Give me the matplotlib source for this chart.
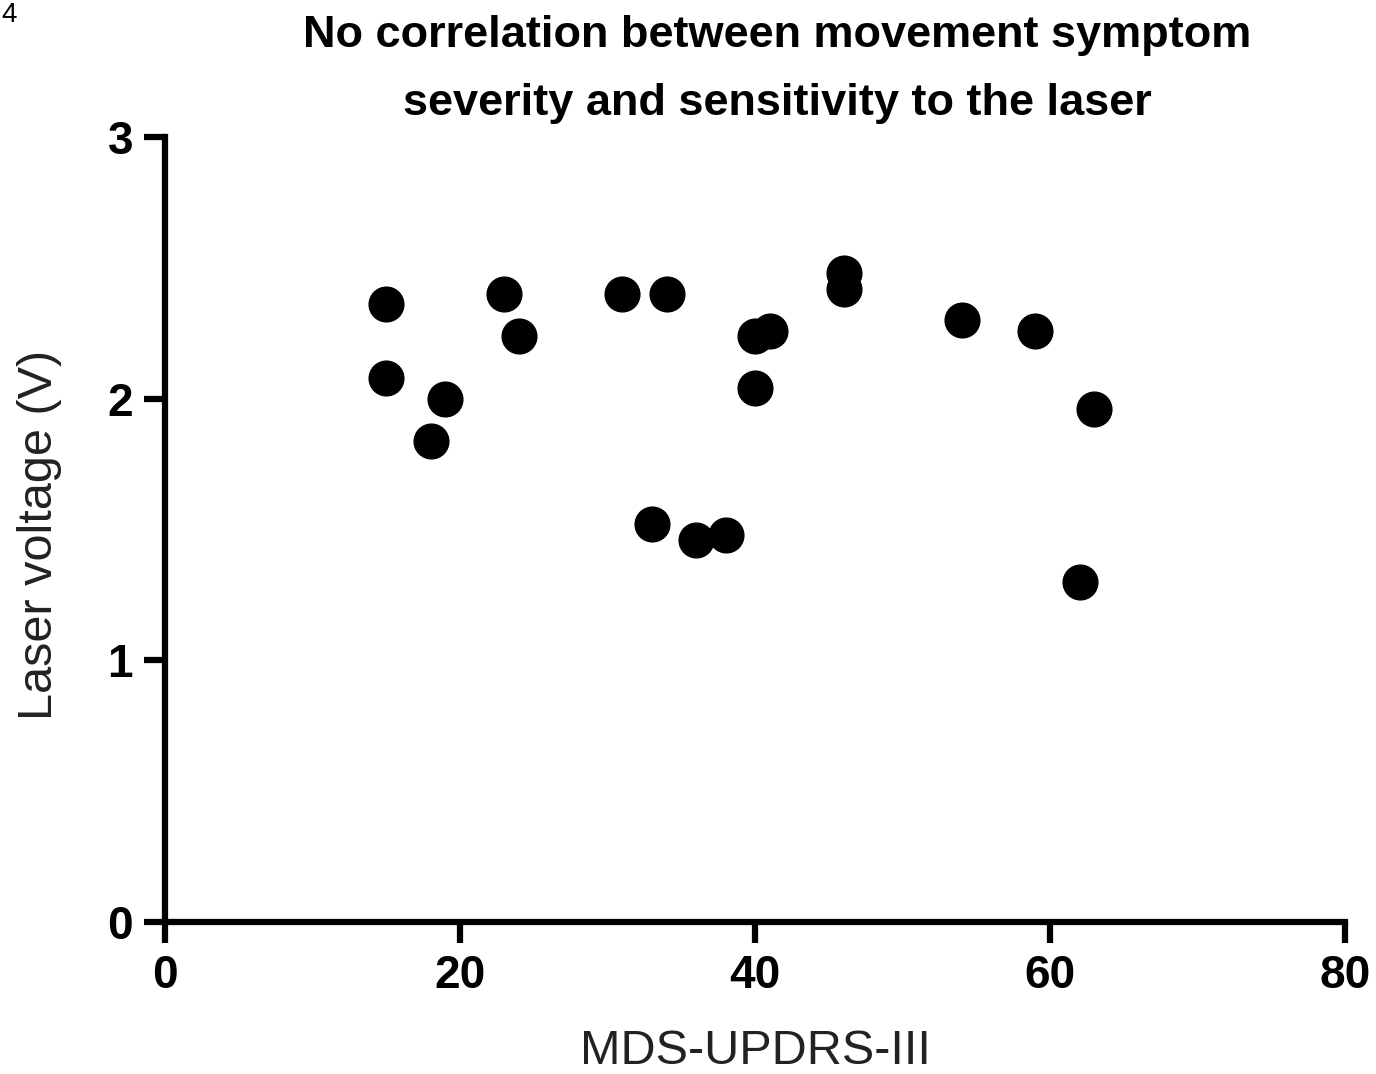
import matplotlib.pyplot as plt

plt.rcParams['font.family'] = ['Liberation Sans', 'DejaVu Sans']

# MDS-UPDRS-III score vs laser voltage
updrs = [15, 15, 18, 19, 23, 24, 31, 34, 33, 36, 38, 40, 41, 40, 46, 46, 54, 59, 63, 62]
voltage = [2.36, 2.08, 1.84, 2.00, 2.40, 2.24, 2.40, 2.40, 1.52, 1.46, 1.48,
           2.24, 2.26, 2.04, 2.48, 2.42, 2.30, 2.26, 1.96, 1.30]

xticks = [0, 20, 40, 60, 80]
yticks = [0, 1, 2, 3]

fig = plt.figure(figsize=(13.76, 10.74), dpi=100)
ax = fig.add_axes([165/1376, 1 - 922/1074, 1180/1376, 785/1074])

ax.plot(updrs, voltage, 'o', color='black', markersize=25, clip_on=False)

ax.set_xlim(0, 80)
ax.set_ylim(0, 3)
ax.set_xticks(xticks)
ax.set_yticks(yticks)
ax.set_xticklabels([str(t) for t in xticks], fontsize=33, fontweight='bold')
ax.set_yticklabels([str(t) for t in yticks], fontsize=33, fontweight='bold')

for side in ['top', 'right']:
    ax.spines[side].set_visible(False)
for side in ['left', 'bottom']:
    ax.spines[side].set_linewidth(4.5)
ax.tick_params(direction='out', length=15, width=4.5, pad=8)

fig.text(755/1376, 1 - 1052/1074, 'MDS-UPDRS-III', fontsize=35,
         ha='center', va='center', color='#222222')
fig.text(40/1376, 1 - 535/1074, 'Laser voltage (V)', fontsize=35,
         ha='center', va='center', rotation=90, color='#222222')

fig.text(777/1376, 1 - 35/1074, 'No correlation between movement symptom',
         fontsize=32.5, fontweight='bold', ha='center', va='center')
fig.text(777/1376, 1 - 103/1074, 'severity and sensitivity to the laser',
         fontsize=32.5, fontweight='bold', ha='center', va='center')

# panel label in the corner
fig.text(0.001, 1 - 15/1074, '4', fontsize=20, ha='left', va='center')

fig.savefig('out.png', dpi=100)
